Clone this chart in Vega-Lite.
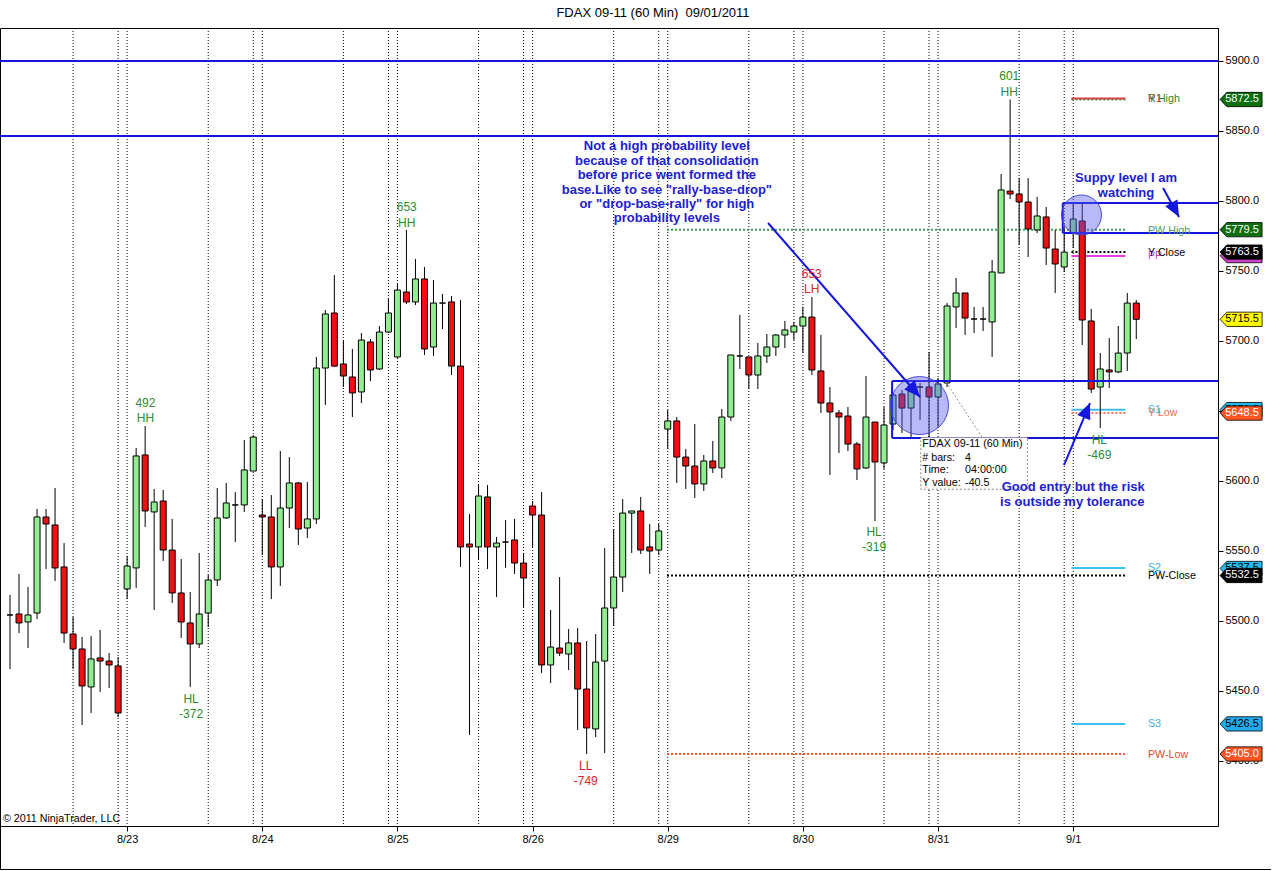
{
"$schema":"https://vega.github.io/schema/vega-lite/v6.json",
"width":1218,"height":798,
"autosize":{"type":"none"},
"padding":{"left":0,"top":28,"right":54,"bottom":45},
"background":"#ffffff",
"title":{"text":"FDAX 09-11 (60 Min)\u00a0 09/01/2011","fontSize":13,"fontWeight":"normal","font":"Liberation Sans","color":"#000000","anchor":"middle","baseline":"bottom","offset":9,"dx":44,"dy":14},
"config":{"view":{"stroke":"#000000","strokeWidth":1},"font":"Liberation Sans",
 "axis":{"grid":false,"tickColor":"#000000","tickSize":5,"labelFontSize":11,"labelFont":"Liberation Sans","labelColor":"#000000","labelPadding":2,"labelOverlap":false,"labelFlush":false,"domainColor":"#000000"},
 "axisX":{"domain":false},"axisY":{"domain":true}},
"datasets":{
"candles":[
{"i":0,"o":5504.3,"h":5518.6,"l":5465.7,"c":5504.3},
{"i":1,"o":5505.0,"h":5533.6,"l":5491.4,"c":5498.6},
{"i":2,"o":5499.3,"h":5524.3,"l":5480.7,"c":5504.3},
{"i":3,"o":5505.7,"h":5580.0,"l":5501.4,"c":5574.3},
{"i":4,"o":5574.3,"h":5580.0,"l":5537.1,"c":5569.3},
{"i":5,"o":5568.6,"h":5595.0,"l":5528.6,"c":5537.9},
{"i":6,"o":5538.6,"h":5555.7,"l":5484.3,"c":5491.4},
{"i":7,"o":5490.7,"h":5502.9,"l":5465.7,"c":5480.0},
{"i":8,"o":5480.0,"h":5488.6,"l":5425.7,"c":5453.6},
{"i":9,"o":5452.9,"h":5489.3,"l":5434.3,"c":5472.9},
{"i":10,"o":5473.6,"h":5493.6,"l":5449.3,"c":5471.4},
{"i":11,"o":5471.4,"h":5477.1,"l":5452.1,"c":5468.6},
{"i":12,"o":5467.9,"h":5474.3,"l":5431.4,"c":5434.3},
{"i":13,"o":5522.9,"h":5546.4,"l":5515.7,"c":5539.3},
{"i":14,"o":5537.9,"h":5623.6,"l":5523.6,"c":5617.9},
{"i":15,"o":5618.6,"h":5639.3,"l":5567.1,"c":5578.6},
{"i":16,"o":5577.9,"h":5594.3,"l":5507.9,"c":5585.0},
{"i":17,"o":5585.7,"h":5593.6,"l":5542.9,"c":5550.7},
{"i":18,"o":5550.7,"h":5572.9,"l":5512.9,"c":5520.0},
{"i":19,"o":5520.0,"h":5544.3,"l":5487.9,"c":5499.3},
{"i":20,"o":5498.6,"h":5520.7,"l":5452.9,"c":5483.6},
{"i":21,"o":5483.6,"h":5548.6,"l":5480.7,"c":5505.0},
{"i":22,"o":5505.7,"h":5532.9,"l":5495.7,"c":5529.3},
{"i":23,"o":5529.3,"h":5595.0,"l":5525.0,"c":5573.6},
{"i":24,"o":5573.6,"h":5598.6,"l":5572.9,"c":5584.3},
{"i":25,"o":5582.9,"h":5592.1,"l":5556.4,"c":5582.9},
{"i":26,"o":5582.9,"h":5629.3,"l":5577.9,"c":5607.9},
{"i":27,"o":5607.1,"h":5632.9,"l":5607.1,"c":5631.4},
{"i":28,"o":5575.7,"h":5587.1,"l":5547.1,"c":5574.3},
{"i":29,"o":5574.3,"h":5590.0,"l":5515.7,"c":5538.6},
{"i":30,"o":5538.6,"h":5621.4,"l":5525.0,"c":5580.7},
{"i":31,"o":5580.7,"h":5617.1,"l":5566.4,"c":5598.6},
{"i":32,"o":5598.6,"h":5599.3,"l":5554.3,"c":5565.7},
{"i":33,"o":5566.4,"h":5599.3,"l":5559.3,"c":5572.9},
{"i":34,"o":5572.9,"h":5688.6,"l":5569.3,"c":5680.7},
{"i":35,"o":5680.7,"h":5722.1,"l":5654.3,"c":5719.3},
{"i":36,"o":5720.0,"h":5747.1,"l":5681.4,"c":5682.1},
{"i":37,"o":5683.6,"h":5700.0,"l":5667.1,"c":5675.0},
{"i":38,"o":5674.3,"h":5694.3,"l":5645.7,"c":5662.9},
{"i":39,"o":5663.6,"h":5705.7,"l":5655.7,"c":5700.7},
{"i":40,"o":5699.3,"h":5701.4,"l":5671.4,"c":5679.3},
{"i":41,"o":5680.0,"h":5710.7,"l":5679.3,"c":5706.4},
{"i":42,"o":5706.4,"h":5730.0,"l":5705.7,"c":5720.0},
{"i":43,"o":5688.6,"h":5740.7,"l":5687.9,"c":5736.4},
{"i":44,"o":5735.0,"h":5779.3,"l":5726.4,"c":5727.9},
{"i":45,"o":5727.9,"h":5758.6,"l":5725.7,"c":5744.3},
{"i":46,"o":5744.3,"h":5752.9,"l":5690.0,"c":5694.3},
{"i":47,"o":5695.7,"h":5743.6,"l":5689.3,"c":5727.1},
{"i":48,"o":5727.1,"h":5733.6,"l":5708.6,"c":5727.1},
{"i":49,"o":5727.9,"h":5732.1,"l":5675.7,"c":5682.1},
{"i":50,"o":5682.1,"h":5729.3,"l":5538.6,"c":5552.9},
{"i":51,"o":5555.0,"h":5576.4,"l":5418.6,"c":5552.9},
{"i":52,"o":5552.9,"h":5597.1,"l":5543.6,"c":5589.3},
{"i":53,"o":5588.6,"h":5597.1,"l":5537.1,"c":5552.9},
{"i":54,"o":5552.9,"h":5560.0,"l":5517.1,"c":5555.7},
{"i":55,"o":5556.4,"h":5572.1,"l":5537.9,"c":5556.4},
{"i":56,"o":5557.9,"h":5572.9,"l":5533.6,"c":5541.4},
{"i":57,"o":5541.4,"h":5548.6,"l":5510.0,"c":5530.7},
{"i":58,"o":5582.1,"h":5585.7,"l":5552.9,"c":5575.7},
{"i":59,"o":5575.7,"h":5592.1,"l":5462.9,"c":5468.6},
{"i":60,"o":5468.6,"h":5507.9,"l":5455.7,"c":5481.4},
{"i":61,"o":5480.7,"h":5531.4,"l":5475.0,"c":5477.1},
{"i":62,"o":5476.4,"h":5494.3,"l":5465.0,"c":5484.3},
{"i":63,"o":5484.3,"h":5495.0,"l":5422.1,"c":5451.4},
{"i":64,"o":5451.4,"h":5485.7,"l":5405.0,"c":5423.6},
{"i":65,"o":5422.9,"h":5490.7,"l":5417.1,"c":5470.7},
{"i":66,"o":5471.4,"h":5552.1,"l":5405.7,"c":5509.3},
{"i":67,"o":5509.3,"h":5565.7,"l":5496.4,"c":5531.4},
{"i":68,"o":5531.4,"h":5587.1,"l":5520.7,"c":5577.1},
{"i":69,"o":5577.1,"h":5578.6,"l":5548.6,"c":5578.6},
{"i":70,"o":5578.6,"h":5588.6,"l":5547.9,"c":5550.7},
{"i":71,"o":5552.9,"h":5569.3,"l":5533.6,"c":5550.0},
{"i":72,"o":5550.7,"h":5569.3,"l":5547.1,"c":5564.3},
{"i":73,"o":5637.1,"h":5650.7,"l":5622.9,"c":5642.9},
{"i":74,"o":5642.9,"h":5645.7,"l":5598.6,"c":5617.1},
{"i":75,"o":5617.1,"h":5622.9,"l":5594.3,"c":5610.7},
{"i":76,"o":5610.7,"h":5640.7,"l":5587.9,"c":5597.9},
{"i":77,"o":5597.9,"h":5618.6,"l":5592.9,"c":5614.3},
{"i":78,"o":5614.3,"h":5628.6,"l":5605.7,"c":5609.3},
{"i":79,"o":5609.3,"h":5651.4,"l":5602.1,"c":5645.7},
{"i":80,"o":5645.7,"h":5690.0,"l":5642.9,"c":5690.0},
{"i":81,"o":5689.3,"h":5718.6,"l":5680.0,"c":5689.3},
{"i":82,"o":5688.6,"h":5688.6,"l":5665.7,"c":5675.7},
{"i":83,"o":5675.7,"h":5698.6,"l":5665.7,"c":5689.3},
{"i":84,"o":5689.3,"h":5705.0,"l":5684.3,"c":5695.7},
{"i":85,"o":5695.7,"h":5705.0,"l":5689.3,"c":5704.3},
{"i":86,"o":5704.3,"h":5714.3,"l":5695.0,"c":5707.9},
{"i":87,"o":5706.4,"h":5713.6,"l":5700.7,"c":5710.7},
{"i":88,"o":5710.7,"h":5724.3,"l":5691.4,"c":5717.1},
{"i":89,"o":5717.1,"h":5731.4,"l":5675.7,"c":5679.3},
{"i":90,"o":5678.6,"h":5704.3,"l":5648.6,"c":5655.7},
{"i":91,"o":5655.7,"h":5667.1,"l":5604.3,"c":5649.3},
{"i":92,"o":5648.6,"h":5650.7,"l":5620.0,"c":5645.7},
{"i":93,"o":5646.4,"h":5652.9,"l":5621.4,"c":5626.4},
{"i":94,"o":5626.4,"h":5627.9,"l":5600.7,"c":5608.6},
{"i":95,"o":5609.3,"h":5675.0,"l":5608.6,"c":5645.7},
{"i":96,"o":5642.1,"h":5642.1,"l":5571.4,"c":5613.6},
{"i":97,"o":5612.9,"h":5652.9,"l":5608.6,"c":5640.0},
{"i":98,"o":5640.7,"h":5662.9,"l":5636.4,"c":5661.4},
{"i":99,"o":5662.1,"h":5665.0,"l":5634.3,"c":5652.1},
{"i":100,"o":5652.1,"h":5670.0,"l":5631.4,"c":5667.9},
{"i":101,"o":5667.1,"h":5670.0,"l":5643.6,"c":5667.1},
{"i":102,"o":5667.1,"h":5692.1,"l":5631.4,"c":5660.0},
{"i":103,"o":5660.0,"h":5673.6,"l":5638.6,"c":5669.3},
{"i":104,"o":5670.0,"h":5727.1,"l":5667.1,"c":5725.0},
{"i":105,"o":5724.3,"h":5745.0,"l":5709.3,"c":5734.3},
{"i":106,"o":5734.3,"h":5734.3,"l":5704.3,"c":5716.4},
{"i":107,"o":5715.7,"h":5724.3,"l":5705.7,"c":5715.7},
{"i":108,"o":5715.7,"h":5724.3,"l":5707.1,"c":5715.7},
{"i":109,"o":5713.6,"h":5757.9,"l":5688.6,"c":5749.3},
{"i":110,"o":5748.6,"h":5819.3,"l":5748.6,"c":5807.9},
{"i":111,"o":5807.1,"h":5872.5,"l":5801.4,"c":5805.0},
{"i":112,"o":5805.0,"h":5816.4,"l":5768.6,"c":5799.3},
{"i":113,"o":5799.3,"h":5816.4,"l":5760.0,"c":5780.0},
{"i":114,"o":5779.3,"h":5802.9,"l":5777.1,"c":5789.3},
{"i":115,"o":5788.6,"h":5795.7,"l":5754.3,"c":5766.4},
{"i":116,"o":5765.7,"h":5779.3,"l":5734.3,"c":5755.0},
{"i":117,"o":5752.9,"h":5781.4,"l":5749.3,"c":5763.5},
{"i":118,"o":5777.1,"h":5798.6,"l":5766.4,"c":5787.1},
{"i":119,"o":5785.7,"h":5798.6,"l":5697.1,"c":5715.0},
{"i":120,"o":5714.3,"h":5722.9,"l":5662.9,"c":5665.7},
{"i":121,"o":5667.1,"h":5691.4,"l":5637.9,"c":5680.0},
{"i":122,"o":5679.3,"h":5702.1,"l":5666.4,"c":5677.9},
{"i":123,"o":5677.9,"h":5710.7,"l":5677.1,"c":5691.4},
{"i":124,"o":5691.4,"h":5734.3,"l":5678.6,"c":5727.1},
{"i":125,"o":5727.1,"h":5729.3,"l":5701.4,"c":5715.5}
],
"days":[{"i":7},{"i":12},{"i":13},{"i":22},{"i":27},{"i":28},{"i":37},{"i":42},{"i":43},{"i":52},{"i":57},{"i":58},{"i":67},{"i":72},{"i":73},{"i":82},{"i":87},{"i":88},{"i":97},{"i":102},{"i":103},{"i":112},{"i":117},{"i":118}],
"frame":[{"i":-1.054,"i2":-1.054,"p":5353.57,"p2":5322.5},{"i":-1.11,"i2":139.96,"p":5322.5,"p2":5322.5}],
"dotted":[
{"name":"PW High","i":72.92,"i2":123.8,"p":5779.5},
{"name":"PW-Close","i":72.92,"i2":123.8,"p":5532.5},
{"name":"PW-Low","i":72.92,"i2":123.8,"p":5405.0},
{"name":"Y High","i":117.8,"i2":123.8,"p":5872.5},
{"name":"Y Close","i":117.8,"i2":123.8,"p":5763.5},
{"name":"Y Low","i":117.8,"i2":123.8,"p":5648.5}],
"pivots":[
{"name":"R1","i":117.8,"i2":123.8,"p":5873.2},
{"name":"PP","i":117.8,"i2":123.8,"p":5760.7},
{"name":"S1","i":117.8,"i2":123.8,"p":5650.9},
{"name":"S2","i":117.8,"i2":123.8,"p":5537.9},
{"name":"S3","i":117.8,"i2":123.8,"p":5426.4}],
"zones":[
{"i":-1.11,"i2":134.07,"p":5900,"p2":5900},
{"i":-1.11,"i2":134.07,"p":5846.4,"p2":5846.4},
{"i":116.84,"i2":134.07,"p":5798.6,"p2":5798.6},
{"i":116.84,"i2":134.07,"p":5777.1,"p2":5777.1},
{"i":116.84,"i2":116.84,"p":5798.6,"p2":5777.1},
{"i":97.9,"i2":134.07,"p":5671.4,"p2":5671.4},
{"i":97.9,"i2":134.07,"p":5630.7,"p2":5630.7},
{"i":97.9,"i2":97.9,"p":5671.4,"p2":5630.7}],
"arrowShafts":[
{"i":84.13,"i2":101.0,"p":5784.3,"p2":5660.0},
{"i":127.97,"i2":129.75,"p":5809.3,"p2":5788.6},
{"i":116.98,"i2":119.87,"p":5611.4,"p2":5655.7}],
"arrowHeads":[
{"i":100.27,"p":5665.4,"a":138.9},
{"i":129.21,"p":5794.9,"a":151.1},
{"i":119.43,"p":5649.2,"a":22.8}],
"bigCircle":[{"i":100.94,"p":5653.9}],
"smallCircle":[{"i":118.92,"p":5790.0}],
"infoLine":[{"i":103.88,"i2":107.88,"p":5670.7,"p2":5631.4}],
"infoBox":[{"i":101.08,"i2":112.92,"p":5631.0,"p2":5594.1}],
"infoText":[
{"t":"FDAX 09-11 (60 Min)","i":101.25,"p":5626.2},
{"t":"# bars:","i":101.25,"p":5616.6},
{"t":"4","i":106.0,"p":5616.6},
{"t":"Time:","i":101.25,"p":5607.9},
{"t":"04:00:00","i":106.0,"p":5607.9},
{"t":"Y value:","i":101.25,"p":5598.8},
{"t":"-40.5","i":106.0,"p":5598.8}],
"notes":[
{"t":"Not a high probability level","i":72.9,"p":5839.3},
{"t":"because of that consolidation","i":72.9,"p":5828.9},
{"t":"before price went formed the","i":72.9,"p":5818.6},
{"t":"base.Like to see \"rally-base-drop\"","i":72.9,"p":5808.2},
{"t":"or \"drop-base-rally\" for high","i":72.9,"p":5797.9},
{"t":"probability levels","i":72.9,"p":5787.5},
{"t":"Suppy level I am","i":123.86,"p":5816.2},
{"t":"watching","i":123.86,"p":5805.5},
{"t":"Good entry but the risk","i":118.0,"p":5596.0},
{"t":"is outside my tolerance","i":117.9,"p":5585.2}],
"swings":[
{"t":"492","type":"HH","i":15.03,"p":5655.5},
{"t":"HH","type":"HH","i":15.03,"p":5644.8},
{"t":"HL","type":"HL","i":20.1,"p":5444.1},
{"t":"-372","type":"HL","i":20.1,"p":5433.6},
{"t":"653","type":"HH","i":44.03,"p":5795.6},
{"t":"HH","type":"HH","i":44.03,"p":5784.4},
{"t":"LL","type":"LL","i":63.9,"p":5396.4},
{"t":"-749","type":"LL","i":63.9,"p":5385.7},
{"t":"653","type":"LH","i":88.98,"p":5747.6},
{"t":"LH","type":"LH","i":88.98,"p":5736.9},
{"t":"HL","type":"HL","i":95.9,"p":5563.8},
{"t":"-319","type":"HL","i":95.9,"p":5553.1},
{"t":"601","type":"HH","i":110.9,"p":5889.3},
{"t":"HH","type":"HH","i":110.9,"p":5878.1},
{"t":"HL","type":"HL","i":120.9,"p":5629.3},
{"t":"-469","type":"HL","i":120.9,"p":5618.6}],
"levelLabels":[
{"name":"R1","i":126.3,"p":5873.0},
{"name":"Y High","i":126.3,"p":5872.5},
{"name":"PW High","i":126.3,"p":5778.6},
{"name":"PP","i":126.3,"p":5760.5},
{"name":"Y Close","i":126.3,"p":5762.9},
{"name":"S1","i":126.3,"p":5650.7},
{"name":"Y Low","i":126.3,"p":5648.4},
{"name":"S2","i":126.3,"p":5537.6},
{"name":"PW-Close","i":126.3,"p":5532.1},
{"name":"S3","i":126.3,"p":5426.2},
{"name":"PW-Low","i":126.3,"p":5404.3}],
"copyright":[{"t":"© 2011 NinjaTrader, LLC","i":-0.78,"p":5358.6}],
"tagsBack":[
{"name":"PP","i":136.63,"p":5761.0,"t":"5761.0"},
{"name":"S1","i":136.63,"p":5651.0,"t":"5651.0"},
{"name":"S2","i":136.63,"p":5537.5,"t":"5537.5"}],
"tagsFront":[
{"name":"Y High","i":136.63,"p":5872.5,"t":"5872.5"},
{"name":"PW High","i":136.63,"p":5779.5,"t":"5779.5"},
{"name":"Y Close","i":136.63,"p":5763.5,"t":"5763.5"},
{"name":"Last","i":136.63,"p":5715.5,"t":"5715.5"},
{"name":"Y Low","i":136.63,"p":5648.5,"t":"5648.5"},
{"name":"PW-Close","i":136.63,"p":5532.5,"t":"5532.5"},
{"name":"S3","i":136.63,"p":5426.5,"t":"5426.5"},
{"name":"PW-Low","i":136.63,"p":5405.0,"t":"5405.0"}]
},
"encoding":{"x":{"field":"i","type":"quantitative","scale":{"domain":[-1.11,134.07],"nice":false,"zero":false,"padding":0},
 "axis":{"orient":"bottom","values":[13,28,43,58,73,88,103,118],"labelExpr":"['8/23','8/24','8/25','8/26','8/29','8/30','8/31','9/1'][indexof([13,28,43,58,73,88,103,118], datum.value)]","title":null}}},
"layer":[
{"data":{"name":"frame"},"mark":{"type":"rule","stroke":"#000000","strokeWidth":1},
 "encoding":{"x2":{"field":"i2"},"y":{"field":"p","type":"quantitative","scale":{"domain":[5353.57,5923.57],"nice":false,"zero":false},"axis":{"orient":"right","values":[5400,5450,5500,5550,5600,5650,5700,5750,5800,5850,5900],"format":".1f","title":null}},"y2":{"field":"p2"}}},
{"data":{"name":"days"},"mark":{"type":"rule","stroke":"#000000","strokeWidth":1,"strokeDash":[1,2]},"encoding":{}},
{"data":{"name":"dotted"},"mark":{"type":"rule","strokeWidth":2,"strokeDash":[2,2]},
 "encoding":{"x2":{"field":"i2"},"y":{"field":"p","type":"quantitative","scale":{"domain":[5353.57,5923.57],"nice":false,"zero":false},"axis":{"orient":"right","values":[5400,5450,5500,5550,5600,5650,5700,5750,5800,5850,5900],"format":".1f","title":null}},
  "stroke":{"field":"name","type":"nominal","legend":null,"scale":{"domain":["PW High","PW-Close","PW-Low","Y High","Y Close","Y Low"],"range":["#3e9e56","#000000","#ff5a30","#3aa03a","#000000","#ff7a50"]}}}},
{"data":{"name":"pivots"},"mark":{"type":"rule","strokeWidth":2},
 "encoding":{"x2":{"field":"i2"},"y":{"field":"p","type":"quantitative","scale":{"domain":[5353.57,5923.57],"nice":false,"zero":false},"axis":{"orient":"right","values":[5400,5450,5500,5550,5600,5650,5700,5750,5800,5850,5900],"format":".1f","title":null}},
  "stroke":{"field":"name","type":"nominal","legend":null,"scale":{"domain":["R1","PP","S1","S2","S3"],"range":["#d04040","#e040e0","#40c0f0","#40c0f0","#40c0f0"]}}}},
{"data":{"name":"candles"},"mark":{"type":"rule","stroke":"#000000","strokeWidth":1},
 "encoding":{"y":{"field":"l","type":"quantitative","scale":{"domain":[5353.57,5923.57],"nice":false,"zero":false},"axis":{"orient":"right","values":[5400,5450,5500,5550,5600,5650,5700,5750,5800,5850,5900],"format":".1f","title":null}},"y2":{"field":"h"}}},
{"data":{"name":"candles"},"mark":{"type":"bar","size":6,"stroke":"#000000","strokeWidth":1},
 "encoding":{"y":{"field":"o","type":"quantitative","scale":{"domain":[5353.57,5923.57],"nice":false,"zero":false},"axis":{"orient":"right","values":[5400,5450,5500,5550,5600,5650,5700,5750,5800,5850,5900],"format":".1f","title":null}},"y2":{"field":"c"},
  "fill":{"condition":{"test":"datum.c >= datum.o","value":"#90ee90"},"value":"#ee1111"}}},
{"data":{"name":"zones"},"mark":{"type":"rule","stroke":"#1515e0","strokeWidth":2},
 "encoding":{"x2":{"field":"i2"},"y":{"field":"p","type":"quantitative","scale":{"domain":[5353.57,5923.57],"nice":false,"zero":false},"axis":{"orient":"right","values":[5400,5450,5500,5550,5600,5650,5700,5750,5800,5850,5900],"format":".1f","title":null}},"y2":{"field":"p2"}}},
{"data":{"name":"bigCircle"},"mark":{"type":"point","shape":"circle","size":3364,"filled":true,"fill":"#5858ee","fillOpacity":0.42,"stroke":"#3a3ad8","strokeWidth":1,"strokeOpacity":0.9},
 "encoding":{"y":{"field":"p","type":"quantitative","scale":{"domain":[5353.57,5923.57],"nice":false,"zero":false},"axis":{"orient":"right","values":[5400,5450,5500,5550,5600,5650,5700,5750,5800,5850,5900],"format":".1f","title":null}}}},
{"data":{"name":"smallCircle"},"mark":{"type":"point","shape":"circle","size":1600,"filled":true,"fill":"#5858ee","fillOpacity":0.42,"stroke":"#3a3ad8","strokeWidth":1,"strokeOpacity":0.9},
 "encoding":{"y":{"field":"p","type":"quantitative","scale":{"domain":[5353.57,5923.57],"nice":false,"zero":false},"axis":{"orient":"right","values":[5400,5450,5500,5550,5600,5650,5700,5750,5800,5850,5900],"format":".1f","title":null}}}},
{"data":{"name":"infoLine"},"mark":{"type":"rule","stroke":"#8a8a8a","strokeWidth":1,"strokeDash":[2,2]},
 "encoding":{"x2":{"field":"i2"},"y":{"field":"p","type":"quantitative","scale":{"domain":[5353.57,5923.57],"nice":false,"zero":false},"axis":{"orient":"right","values":[5400,5450,5500,5550,5600,5650,5700,5750,5800,5850,5900],"format":".1f","title":null}},"y2":{"field":"p2"}}},
{"data":{"name":"infoBox"},"mark":{"type":"rect","fill":"#ffffff","stroke":"#8a8a8a","strokeWidth":1,"strokeDash":[2,2]},
 "encoding":{"x2":{"field":"i2"},"y":{"field":"p","type":"quantitative","scale":{"domain":[5353.57,5923.57],"nice":false,"zero":false},"axis":{"orient":"right","values":[5400,5450,5500,5550,5600,5650,5700,5750,5800,5850,5900],"format":".1f","title":null}},"y2":{"field":"p2"}}},
{"data":{"name":"infoText"},"mark":{"type":"text","align":"left","baseline":"middle","fontSize":10.7,"font":"Liberation Sans","fill":"#000000"},
 "encoding":{"y":{"field":"p","type":"quantitative","scale":{"domain":[5353.57,5923.57],"nice":false,"zero":false},"axis":{"orient":"right","values":[5400,5450,5500,5550,5600,5650,5700,5750,5800,5850,5900],"format":".1f","title":null}},"text":{"field":"t"}}},
{"data":{"name":"arrowShafts"},"mark":{"type":"rule","stroke":"#1515e0","strokeWidth":2},
 "encoding":{"x2":{"field":"i2"},"y":{"field":"p","type":"quantitative","scale":{"domain":[5353.57,5923.57],"nice":false,"zero":false},"axis":{"orient":"right","values":[5400,5450,5500,5550,5600,5650,5700,5750,5800,5850,5900],"format":".1f","title":null}},"y2":{"field":"p2"}}},
{"data":{"name":"arrowHeads"},"mark":{"type":"point","shape":"M0,-1L0.7,0.6L-0.7,0.6Z","size":400,"filled":true,"fill":"#1515e0","strokeWidth":0,"opacity":1},
 "encoding":{"y":{"field":"p","type":"quantitative","scale":{"domain":[5353.57,5923.57],"nice":false,"zero":false},"axis":{"orient":"right","values":[5400,5450,5500,5550,5600,5650,5700,5750,5800,5850,5900],"format":".1f","title":null}},
  "angle":{"field":"a","type":"quantitative","scale":{"domain":[0,360],"range":[0,360]}}}},
{"data":{"name":"notes"},"mark":{"type":"text","align":"center","baseline":"middle","fontSize":13,"fontWeight":"bold","font":"Liberation Sans","fill":"#2020d0"},
 "encoding":{"y":{"field":"p","type":"quantitative","scale":{"domain":[5353.57,5923.57],"nice":false,"zero":false},"axis":{"orient":"right","values":[5400,5450,5500,5550,5600,5650,5700,5750,5800,5850,5900],"format":".1f","title":null}},"text":{"field":"t"}}},
{"data":{"name":"swings"},"mark":{"type":"text","align":"center","baseline":"middle","fontSize":12,"font":"Liberation Sans"},
 "encoding":{"y":{"field":"p","type":"quantitative","scale":{"domain":[5353.57,5923.57],"nice":false,"zero":false},"axis":{"orient":"right","values":[5400,5450,5500,5550,5600,5650,5700,5750,5800,5850,5900],"format":".1f","title":null}},"text":{"field":"t"},
  "fill":{"field":"type","type":"nominal","legend":null,"scale":{"domain":["HH","HL","LL","LH"],"range":["#2e8b2e","#2e8b2e","#dd2233","#dd2233"]}}}},
{"data":{"name":"levelLabels"},"mark":{"type":"text","align":"left","baseline":"middle","fontSize":10.7,"font":"Liberation Sans"},
 "encoding":{"y":{"field":"p","type":"quantitative","scale":{"domain":[5353.57,5923.57],"nice":false,"zero":false},"axis":{"orient":"right","values":[5400,5450,5500,5550,5600,5650,5700,5750,5800,5850,5900],"format":".1f","title":null}},"text":{"field":"name"},
  "fill":{"field":"name","type":"nominal","legend":null,"scale":{"domain":["R1","Y High","PW High","PP","Y Close","S1","Y Low","S2","PW-Close","S3","PW-Low"],"range":["#b04040","#2a8a2a","#4a9a6a","#d040d0","#000000","#40b0e0","#f07050","#40b0e0","#000000","#40b0e0","#e04a30"]}}}},
{"data":{"name":"copyright"},"mark":{"type":"text","align":"left","baseline":"middle","fontSize":10.7,"font":"Liberation Sans","fill":"#000000"},
 "encoding":{"y":{"field":"p","type":"quantitative","scale":{"domain":[5353.57,5923.57],"nice":false,"zero":false},"axis":{"orient":"right","values":[5400,5450,5500,5550,5600,5650,5700,5750,5800,5850,5900],"format":".1f","title":null}},"text":{"field":"t"}}},
{"data":{"name":"tagsBack"},"mark":{"type":"point","shape":"M-1,0L-0.68,-0.34L1,-0.34L1,0.34L-0.68,0.34Z","size":1764,"filled":true,"stroke":"#000000","strokeWidth":0.8,"opacity":1},
 "encoding":{"y":{"field":"p","type":"quantitative","scale":{"domain":[5353.57,5923.57],"nice":false,"zero":false},"axis":{"orient":"right","values":[5400,5450,5500,5550,5600,5650,5700,5750,5800,5850,5900],"format":".1f","title":null}},
  "fill":{"field":"name","type":"nominal","legend":null,"scale":{"domain":["PP","S1","S2"],"range":["#d040d0","#22bbee","#22bbee"]}}}},
{"data":{"name":"tagsBack"},"mark":{"type":"text","align":"center","baseline":"middle","fontSize":11,"font":"Liberation Sans","dx":1},
 "encoding":{"y":{"field":"p","type":"quantitative","scale":{"domain":[5353.57,5923.57],"nice":false,"zero":false},"axis":{"orient":"right","values":[5400,5450,5500,5550,5600,5650,5700,5750,5800,5850,5900],"format":".1f","title":null}},"text":{"field":"t"},
  "fill":{"field":"name","type":"nominal","legend":null,"scale":{"domain":["PP","S1","S2"],"range":["#ffffff","#000000","#000000"]}}}},
{"data":{"name":"tagsFront"},"mark":{"type":"point","shape":"M-1,0L-0.68,-0.34L1,-0.34L1,0.34L-0.68,0.34Z","size":1764,"filled":true,"stroke":"#000000","strokeWidth":0.8,"opacity":1},
 "encoding":{"y":{"field":"p","type":"quantitative","scale":{"domain":[5353.57,5923.57],"nice":false,"zero":false},"axis":{"orient":"right","values":[5400,5450,5500,5550,5600,5650,5700,5750,5800,5850,5900],"format":".1f","title":null}},
  "fill":{"field":"name","type":"nominal","legend":null,"scale":{"domain":["Y High","PW High","Y Close","Last","Y Low","PW-Close","S3","PW-Low"],"range":["#0d6e0d","#0d6e0d","#000000","#ffff00","#ff5522","#000000","#22aaee","#ff5522"]}}}},
{"data":{"name":"tagsFront"},"mark":{"type":"text","align":"center","baseline":"middle","fontSize":11,"font":"Liberation Sans","dx":1},
 "encoding":{"y":{"field":"p","type":"quantitative","scale":{"domain":[5353.57,5923.57],"nice":false,"zero":false},"axis":{"orient":"right","values":[5400,5450,5500,5550,5600,5650,5700,5750,5800,5850,5900],"format":".1f","title":null}},"text":{"field":"t"},
  "fill":{"field":"name","type":"nominal","legend":null,"scale":{"domain":["Y High","PW High","Y Close","Last","Y Low","PW-Close","S3","PW-Low"],"range":["#ffffff","#ffffff","#ffffff","#000000","#ffffff","#ffffff","#000000","#ffffff"]}}}}
],
"resolve":{"scale":{"fill":"independent","stroke":"independent"}}
}
